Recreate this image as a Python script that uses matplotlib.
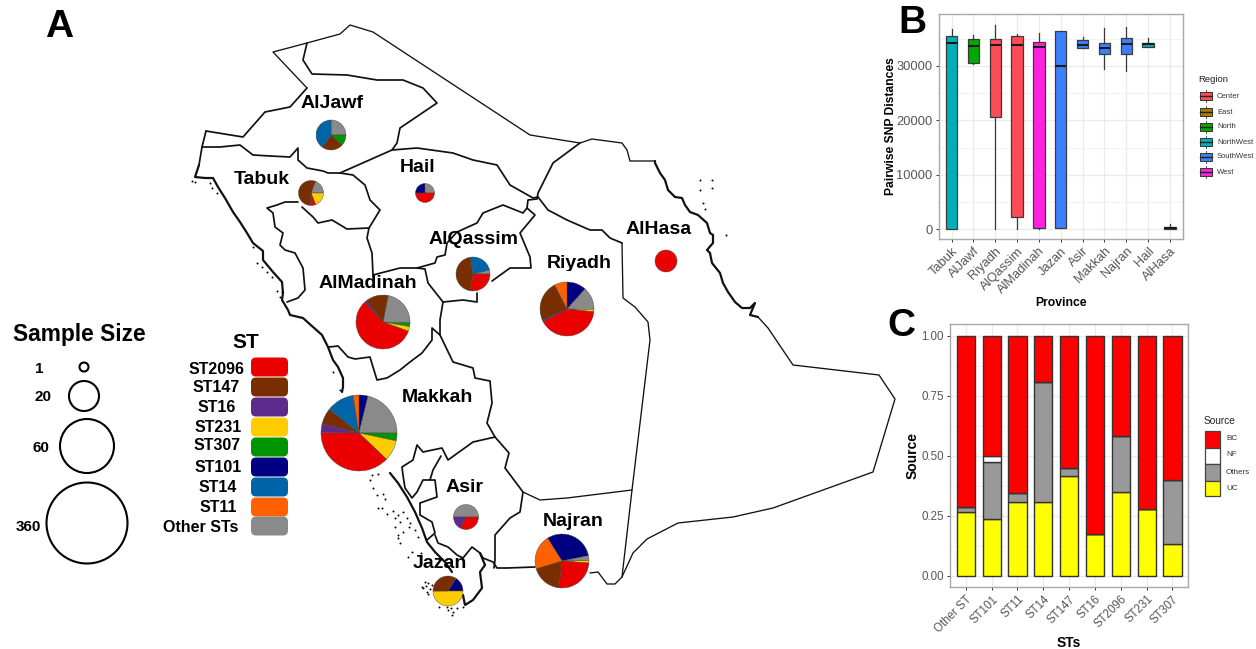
import matplotlib
matplotlib.use("Agg")
import matplotlib.pyplot as plt
from matplotlib.patches import Circle, FancyBboxPatch, Rectangle

plt.rcParams['font.family'] = ['Liberation Sans', 'DejaVu Sans']
W, H = 1256, 649

# ---------- Panel A data ----------
ST_NAMES = ['ST2096', 'ST147', 'ST16', 'ST231', 'ST307', 'ST101', 'ST14', 'ST11', 'Other STs']
ST_COLORS = ['#EA0000', '#782E00', '#5B2A8C', '#FFCC00', '#009500', '#000080', '#0064A8', '#FF6000', '#8A8A8A']
ST_LABEL_POS = [(217, 369), (216, 388), (217, 408), (218, 428), (217, 446), (218, 467), (218, 488), (218, 508), (201, 527)]
ST_SWATCH_Y = [367, 387, 407, 427, 447, 467, 487, 507, 526]

# clockwise slice order used by every pie
PIE_ORDER = ['ST101', 'Other STs', 'ST307', 'ST231', 'ST2096', 'ST16', 'ST147', 'ST14', 'ST11']
PROVINCES_MAP = ['AlJawf', 'Tabuk', 'Hail', 'AlQassim', 'AlMadinah', 'Riyadh', 'AlHasa', 'Makkah', 'Asir', 'Najran', 'Jazan']
PIE_VALUES = {
    'AlJawf':    [0, 25, 11.9, 0, 0, 0, 22.9, 40.1, 0],
    'Tabuk':     [0, 19.2, 0, 18.9, 6.9, 0, 55, 0, 0],
    'Hail':      [25, 25, 0, 0, 50, 0, 0, 0, 0],
    'AlQassim':  [0, 3.9, 0, 0, 27.5, 0, 45, 23.6, 0],
    'AlMadinah': [0, 22.5, 2.2, 2.8, 57.6, 1.25, 13.6, 0, 0],
    'Riyadh':    [11.7, 13.6, 0, 1.4, 40.6, 1.1, 24.2, 0, 7.5],
    'AlHasa':    [0, 0, 0, 0, 100, 0, 0, 0, 0],
    'Makkah':    [3.8, 21.2, 3.3, 8.8, 38, 3.6, 7, 11.7, 2.5],
    'Asir':      [0, 50, 0, 0, 32.8, 17.2, 0, 0, 0],
    'Najran':    [30.8, 3, 0, 1.4, 25.6, 0, 18.6, 0, 20.6],
    'Jazan':     [16.1, 0, 0, 50, 0, 0, 33.9, 0, 0],
}
PIE_START = {'AlJawf': 90, 'Tabuk': 69, 'Hail': 180, 'AlQassim': 14, 'AlMadinah': 79, 'Riyadh': 90,
             'AlHasa': 90, 'Makkah': 90, 'Asir': 180, 'Najran': 122.3, 'Jazan': 58}
PIE_CENTER = {'AlJawf': (331, 135), 'Tabuk': (311, 193), 'Hail': (425, 193), 'AlQassim': (473, 274),
              'AlMadinah': (383, 322), 'Riyadh': (567, 309), 'AlHasa': (666, 261), 'Makkah': (359, 433),
              'Asir': (466, 517), 'Najran': (562, 561), 'Jazan': (448, 591)}
PIE_RADIUS = {'AlJawf': 15, 'Tabuk': 12.5, 'Hail': 9.5, 'AlQassim': 17, 'AlMadinah': 27, 'Riyadh': 27,
              'AlHasa': 11, 'Makkah': 38, 'Asir': 12.5, 'Najran': 27, 'Jazan': 15}
LABEL_POS = {'AlJawf': (332, 103), 'Tabuk': (262, 180), 'Hail': (418, 168), 'AlQassim': (474, 240),
             'AlMadinah': (368, 284), 'Riyadh': (579, 263), 'AlHasa': (659, 230), 'Makkah': (437, 398),
             'Asir': (465, 487), 'Najran': (573, 521), 'Jazan': (440, 564)}

SIZE_LABELS = ['1', '20', '60', '360']
SIZE_CIRCLES = [(84, 367, 4.5), (84, 396, 15), (87, 446, 27), (87, 523, 40.5)]
SIZE_LABEL_POS = [(39, 369), (43, 397), (41, 448), (28, 527)]

# straight desert boundaries (thin)
BORDERS_STRAIGHT = [
    [(307, 88), (273, 52), (307, 43), (340, 34), (350, 25), (373, 32), (530, 135), (580, 143), (592, 139), (622, 143),
     (627, 150), (630, 161), (655, 161)],
    [(758, 317), (768, 328), (793, 365), (879, 375), (895, 399), (873, 472), (773, 508), (733, 517), (678, 523),
     (647, 539), (633, 553), (622, 577), (615, 584), (607, 584), (598, 572), (590, 573)],
    [(523, 492), (540, 500), (567, 498), (632, 490)],
    [(622, 243), (623, 298), (635, 307), (648, 322), (650, 340), (632, 490), (622, 577)],
]
# inland wiggly boundaries
BORDERS_INLAND = [
    [(535, 567), (507, 568), (497, 568), (493, 562), (483, 558)],
    [(206, 131), (243, 137), (265, 112), (290, 107), (307, 88)],
    [(199, 165), (202, 147), (206, 131)],
    [(307, 43), (303, 60), (312, 74), (347, 75), (377, 80), (403, 80), (423, 88), (437, 103), (400, 128), (397, 143),
     (392, 150), (340, 173), (328, 173), (323, 171), (307, 168), (298, 160), (298, 148), (290, 157), (270, 156),
     (253, 155), (240, 145), (220, 147), (202, 147)],
    [(392, 150), (417, 148), (453, 153), (473, 160), (497, 165), (510, 185), (533, 198), (538, 197)],
    [(580, 143), (553, 163), (538, 193), (537, 199), (528, 200), (527, 208), (535, 215), (520, 233), (530, 257),
     (531, 268), (510, 268), (492, 281)],
    [(527, 208), (523, 213), (503, 205), (483, 213), (477, 223), (457, 232), (447, 243), (445, 255), (437, 257),
     (435, 263), (417, 268), (400, 268), (373, 275), (372, 253), (367, 238), (369, 228), (380, 210), (370, 200),
     (365, 185), (353, 175), (340, 173)],
    [(369, 228), (347, 229), (332, 220), (318, 223), (313, 217), (302, 207)],
    [(298, 202), (285, 202), (277, 205), (267, 208), (273, 213), (275, 227), (283, 233), (280, 245), (285, 250),
     (295, 253), (303, 268), (305, 290), (298, 298), (287, 302)],
    [(417, 268), (425, 269), (428, 283), (443, 302), (463, 300), (477, 302), (477, 293)],
    [(443, 302), (440, 320), (440, 335), (432, 328), (432, 340), (422, 353), (410, 362), (400, 370), (387, 378),
     (377, 380), (373, 367), (370, 357), (355, 359), (348, 357), (338, 346), (329, 347)],
    [(440, 335), (453, 362), (473, 368), (475, 378), (490, 381), (492, 403), (487, 423), (495, 437)],
    [(495, 437), (473, 442), (448, 460), (442, 448), (423, 452), (417, 445), (413, 460), (402, 467), (403, 475),
     (405, 488), (412, 498), (417, 492), (423, 480), (435, 480), (437, 497), (420, 503), (420, 515), (432, 522),
     (435, 533), (427, 540)],
    [(441, 456), (433, 470), (430, 480)],
    [(495, 437), (509, 453), (505, 468), (523, 492), (520, 512), (510, 518), (495, 535), (495, 560), (494, 568)],
    [(435, 535), (438, 543), (448, 547), (457, 555), (463, 558), (472, 547), (480, 553), (483, 558)],
    [(538, 197), (548, 210), (567, 220), (590, 230), (602, 230), (610, 238), (622, 243)],
]
# sea coasts (heavier)
COASTS = [
    [(655, 161), (655, 163), (660, 173), (665, 180), (668, 190), (675, 197), (682, 198), (685, 205), (690, 212),
     (698, 215), (707, 223), (710, 233), (713, 235), (713, 243), (707, 250), (710, 253), (712, 263), (720, 273),
     (723, 283), (728, 292), (735, 302), (742, 308), (750, 308), (755, 303), (750, 315), (758, 317)],
    [(199, 165), (195, 177), (205, 178), (213, 178), (218, 187), (225, 198), (233, 212), (240, 222), (247, 233),
     (253, 243), (263, 251), (263, 260), (273, 272), (282, 282), (283, 293), (282, 300), (288, 310), (290, 315),
     (303, 318), (313, 327), (322, 335), (328, 347), (333, 360), (338, 367), (343, 378), (343, 387), (342, 392)],
    [(390, 473), (398, 483), (407, 497), (415, 512), (422, 528), (427, 542), (435, 552), (445, 562), (452, 572)],
    [(485, 565), (480, 572), (482, 588), (473, 600), (465, 605), (463, 595)],
    [(480, 553), (485, 565)],
]
ISLANDS = [(700, 180), (712, 180), (700, 190), (712, 188), (703, 203), (705, 209), (726, 235),
           (192, 181), (195, 182), (210, 183), (212, 188), (217, 193), (253, 247), (257, 263), (262, 267), (267, 272),
           (272, 277), (277, 291), (282, 292), (280, 297), (333, 372), (340, 390),
           (370, 480), (372, 475), (378, 474), (373, 488), (377, 495), (383, 494), (385, 499), (378, 508), (382, 508),
           (387, 514), (393, 511), (403, 512), (398, 515), (395, 518), (400, 522), (395, 527), (407, 518), (409, 527),
           (410, 523), (403, 532), (415, 530), (418, 537), (398, 535), (398, 538), (400, 543), (408, 557), (412, 552),
           (421, 553), (422, 587), (425, 582), (428, 583), (423, 588), (427, 592), (430, 589), (428, 594), (432, 585),
           (426, 586), (439, 607), (447, 607), (451, 608), (448, 610), (453, 612), (457, 608), (452, 615), (463, 607)]

# ---------- Panel B data ----------
PROVINCES = ['Tabuk', 'AlJawf', 'Riyadh', 'AlQassim', 'AlMadinah', 'Jazan', 'Asir', 'Makkah', 'Najran', 'Hail', 'AlHasa']
REGION_OF = ['NorthWest', 'North', 'Center', 'Center', 'West', 'SouthWest', 'SouthWest', 'SouthWest', 'SouthWest', 'NorthWest', 'East']
WHISLO = [120, 30350, 0, 0, 120, 200, 33350, 29380, 29130, 33540, 120]
Q1 = [120, 30600, 20560, 2260, 245, 300, 33350, 32250, 32250, 33540, 120]
MED = [34200, 33720, 33780, 33780, 33540, 30000, 33900, 33350, 33960, 33960, 300]
Q3 = [35560, 34950, 35000, 35430, 34400, 36350, 34760, 34270, 35190, 34270, 490]
WHISHI = [36780, 35680, 37500, 35800, 36000, 36350, 35370, 36900, 37200, 35070, 920]
REGIONS = ['Center', 'East', 'North', 'NorthWest', 'SouthWest', 'West']
REGION_COLORS = ['#FF4B55', '#A67C00', '#00A800', '#00AEB8', '#3D80FF', '#FF22DD']
REGION_Y = [96, 112, 127, 142, 157, 172]

# ---------- Panel C data ----------
STS = ['Other ST', 'ST101', 'ST11', 'ST14', 'ST147', 'ST16', 'ST2096', 'ST231', 'ST307']
UC = [.267, .2375, .307, .307, .414, .175, .35, .279, .132]
OTHERS = [.018, .2375, .039, .50, .036, 0, .232, 0, .268]
NF = [0, .025, 0, 0, 0, 0, 0, 0, 0]
BC = [.715, .50, .654, .193, .55, .825, .418, .721, .60]
SOURCES = ['BC', 'NF', 'Others', 'UC']
SOURCE_COLORS = ['#FF0000', '#FFFFFF', '#999999', '#FFFF00']


def Y(y):
    return H - y


def add_ax(l, t, r, b):
    return fig.add_axes([l / W, 1 - b / H, (r - l) / W, (b - t) / H])


fig = plt.figure(figsize=(W / 100, H / 100), dpi=100, facecolor='white')

# ---------- overlay canvas in pixels ----------
ax = fig.add_axes([0, 0, 1, 1])
ax.set_axis_off()
for group, lw in [(BORDERS_STRAIGHT, 0.95), (BORDERS_INLAND, 1.25), (COASTS, 1.6)]:
    for line in group:
        ax.plot([p[0] for p in line], [Y(p[1]) for p in line], color='#111111', lw=lw, zorder=2,
                solid_joinstyle='round', solid_capstyle='round')
ax.scatter([p[0] for p in ISLANDS], [Y(p[1]) for p in ISLANDS], s=2.0, color='black', linewidths=0, zorder=2)

color_of = dict(zip(ST_NAMES, ST_COLORS))
for prov in PROVINCES_MAP:
    vals = PIE_VALUES[prov]
    cx, cy = PIE_CENTER[prov]
    keep = [i for i, v in enumerate(vals) if v > 0]
    wedges, _ = ax.pie([vals[i] for i in keep], colors=[color_of[PIE_ORDER[i]] for i in keep],
                       center=(cx, Y(cy)), radius=PIE_RADIUS[prov], startangle=PIE_START[prov],
                       counterclock=False, wedgeprops=dict(linewidth=0.3, edgecolor='#444444'))
    for w in wedges:
        w.set_zorder(3)
    lx, ly = LABEL_POS[prov]
    ax.text(lx, Y(ly), prov, ha='center', va='center', fontsize=14, fontweight='bold', zorder=4)
ax.add_patch(Rectangle((540, Y(279)), 75, 8, facecolor='white', edgecolor='none', zorder=5))

ax.text(59, Y(27), 'A', ha='center', va='center', fontsize=28, fontweight='bold')
ax.text(912, Y(23), 'B', ha='center', va='center', fontsize=28, fontweight='bold')
ax.text(901, Y(326), 'C', ha='center', va='center', fontsize=28, fontweight='bold')

ax.text(79, Y(335), 'Sample Size', ha='center', va='center', fontsize=16.4, fontweight='bold')
for lab, (x, y, r), (lx, ly) in zip(SIZE_LABELS, SIZE_CIRCLES, SIZE_LABEL_POS):
    ax.add_patch(Circle((x, Y(y)), r, fill=False, edgecolor='black', lw=1.5))
    ax.text(lx, Y(ly), lab, ha='center', va='center', fontsize=11, fontweight='bold')

ax.text(246, Y(342), 'ST', ha='center', va='center', fontsize=15, fontweight='bold')
for name, col, (lx, ly), sy in zip(ST_NAMES, ST_COLORS, ST_LABEL_POS, ST_SWATCH_Y):
    ax.add_patch(FancyBboxPatch((255, Y(sy + 5.5)), 29, 11, boxstyle='round,pad=4,rounding_size=5',
                                facecolor=col, edgecolor='none'))
    ax.text(lx, Y(ly), name, ha='center', va='center', fontsize=11.5, fontweight='bold')

# legend B
ax.text(1198, Y(80), 'Region', ha='left', va='center', fontsize=6.8, color='#222222')
for reg, col, y in zip(REGIONS, REGION_COLORS, REGION_Y):
    ax.plot([1205.5, 1205.5], [Y(y - 6), Y(y + 6)], color='#333333', lw=0.6, zorder=2)
    ax.add_patch(Rectangle((1199.5, Y(y + 3.7)), 12, 7.4, facecolor=col, edgecolor='#333333', lw=0.7, zorder=3))
    ax.plot([1199.5, 1211.5], [Y(y), Y(y)], color='#222222', lw=1.0, zorder=4)
    ax.text(1217, Y(y), reg, ha='left', va='center', fontsize=5.5, color='#333333')

# legend C
ax.text(1204, Y(421), 'Source', ha='left', va='center', fontsize=7.3, color='#222222')
for src, col, y0, y1, ly in zip(SOURCES, SOURCE_COLORS, [431, 447.5, 464, 481], [447.5, 464, 481, 496], [439, 455, 472, 488]):
    ax.add_patch(Rectangle((1204.5, Y(y1)), 15, y1 - y0, facecolor=col, edgecolor='#444444', lw=0.9))
    ax.text(1226, Y(ly), src, ha='left', va='center', fontsize=5.9, color='#333333')

ax.set_xlim(0, W)
ax.set_ylim(0, H)
ax.set_aspect('auto')


def style(a):
    a.set_axisbelow(True)
    a.grid(True, which='major', color='#EBEBEB', lw=1.0)
    for s in a.spines.values():
        s.set_color('#A8A8A8')
        s.set_linewidth(1.0)
    a.tick_params(axis='both', which='major', length=2.5, width=0.7, color='#333333', labelcolor='#555555', pad=2)


# ---------- Panel B ----------
axb = add_ax(938.5, 14, 1183, 239)
reg_col = dict(zip(REGIONS, REGION_COLORS))
stats = [dict(med=m, q1=a, q3=b, whislo=lo, whishi=hi, fliers=[])
         for m, a, b, lo, hi in zip(MED, Q1, Q3, WHISLO, WHISHI)]
positions = list(range(1, len(PROVINCES) + 1))
bp = axb.bxp(stats, positions=positions, widths=0.52, patch_artist=True, showcaps=False, showfliers=False,
             boxprops=dict(edgecolor='#3a3a3a', linewidth=0.9),
             whiskerprops=dict(color='#3a3a3a', linewidth=0.9),
             medianprops=dict(color='#1a1a1a', linewidth=1.5, solid_capstyle='butt'))
for patch, reg in zip(bp['boxes'], REGION_OF):
    patch.set_facecolor(reg_col[reg])
axb.set_xlim(0.4, 11.6)
axb.set_ylim(-1780, 39550)
axb.set_yticks([0, 10000, 20000, 30000])
axb.set_yticks([5000, 15000, 25000, 35000], minor=True)
axb.grid(True, which='minor', axis='y', color='#F0F0F0', lw=0.6)
style(axb)
axb.tick_params(axis='y', which='minor', length=0)
axb.set_xticks(positions)
axb.set_xticklabels(PROVINCES, rotation=45, ha='right', rotation_mode='anchor', fontsize=9.3)
axb.tick_params(axis='y', labelsize=9.3)
axb.set_xlabel('Province', fontsize=8.7, fontweight='bold', va='center')
axb.xaxis.set_label_coords(0.5, (239 - 303) / 225)
axb.set_ylabel('Pairwise SNP Distances', fontsize=8.7, fontweight='bold', va='center')
axb.yaxis.set_label_coords((891 - 938.5) / 244.5, 0.50)

# ---------- Panel C ----------
axc = add_ax(950.3, 324.3, 1188, 587)
xs = list(range(len(STS)))
edge = dict(edgecolor='#333333', linewidth=1.0, width=0.7)
bottom = [0.0] * len(STS)
for vals, col in [(UC, '#FFFF00'), (OTHERS, '#999999'), (NF, '#FFFFFF'), (BC, '#FF0000')]:
    axc.bar(xs, vals, bottom=bottom, color=col, **edge)
    bottom = [b + v for b, v in zip(bottom, vals)]
axc.set_xlim(-0.6, 8.6)
axc.set_ylim(-0.047, 1.0475)
axc.set_yticks([0, .25, .5, .75, 1])
axc.set_yticklabels(['0.00', '0.25', '0.50', '0.75', '1.00'])
axc.set_yticks([.125, .375, .625, .875], minor=True)
axc.grid(True, which='minor', axis='y', color='#F0F0F0', lw=0.6)
style(axc)
axc.tick_params(axis='y', which='minor', length=0)
axc.set_xticks(xs)
axc.set_xticklabels(STS, rotation=45, ha='right', rotation_mode='anchor', fontsize=8.3)
axc.tick_params(axis='y', labelsize=8.3)
axc.set_xlabel('STs', fontsize=10, fontweight='bold', va='center')
axc.xaxis.set_label_coords(0.5, (587 - 643) / 262.7)
axc.set_ylabel('Source', fontsize=10, fontweight='bold', va='center')
axc.yaxis.set_label_coords((913 - 950.3) / 237.7, 0.5)

fig.savefig('out.png', dpi=100)
